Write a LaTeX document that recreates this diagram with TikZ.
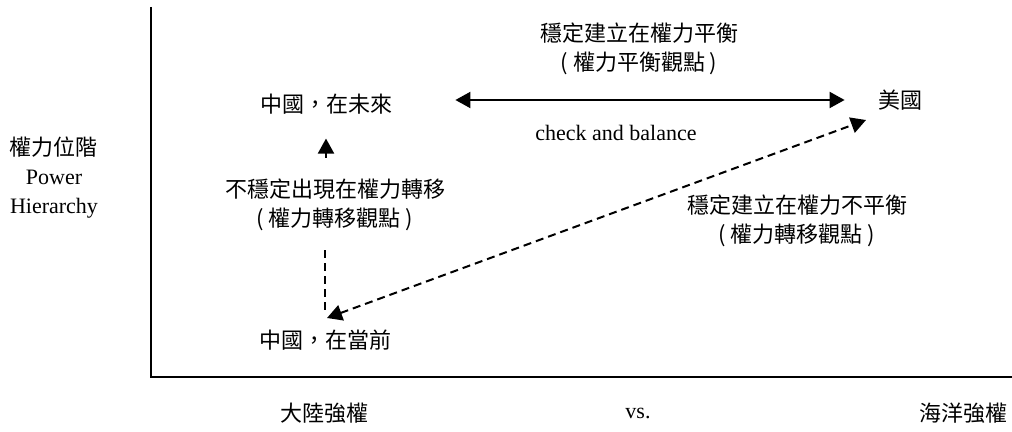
\documentclass[tikz,border=0pt]{standalone}
\usepackage{fontspec}
\usepackage{tikz}
\setmainfont{Liberation Serif}
\newfontfamily\cjk{Noto Sans CJK TC}
\usetikzlibrary{arrows.meta}
\tikzset{
  zh/.style={inner sep=0pt, align=center, font=\cjk\fontsize{11}{14.5}\selectfont},
  en/.style={inner sep=0pt, align=center, font=\fontsize{11}{14.5}\selectfont},
  axisline/.style={line width=1.2pt},
  solidline/.style={line width=1pt},
  dashline/.style={line width=1pt, dash pattern=on 4pt off 2.5pt},
  headtip/.style={-{Triangle[length=7.5pt,width=8pt]}},
  bothtips/.style={{Triangle[length=7.5pt,width=8pt]}-{Triangle[length=7.5pt,width=8pt]}}
}

\begin{document}
\begin{tikzpicture}[x=0.5pt, y=-0.5pt]%
\useasboundingbox (0,0) rectangle (1012,432);%
\coordinate (origin) at (151,377);%
\coordinate (ytop) at (151,7);%
\coordinate (xend) at (1012,377);%
\draw[axisline] (ytop) -- (origin) -- (xend);%
\node[en] (yaxislabel) at (54,178) {{\cjk 權力位階}\\Power\\Hierarchy};%
\node[zh] (future) at (326,104) {中國，在未來};%
\node[zh] (us) at (900,100) {美國};%
\node[zh] (balance) at (639,49) {穩定建立在權力平衡\\( 權力平衡觀點 )};%
\node[en] (check) at (616,133) {check and balance};%
\node[zh] (unstable) at (335,205) {不穩定出現在權力轉移\\( 權力轉移觀點 )};%
\node[zh] (current) at (325,340) {中國，在當前};%
\node[zh] (imbalance) at (797,221) {穩定建立在權力不平衡\\( 權力轉移觀點 )};%
\node[zh] (continental) at (324,413) {大陸強權};%
\node[en] (vs) at (638,413) {vs.};%
\node[zh] (maritime) at (963,413) {海洋強權};%
\draw[solidline, bothtips, shorten <=31.5pt, shorten >=16.5pt] (future.east |- us.west) -- (us.west);%
\draw[solidline, headtip, shorten <=10.5pt, shorten >=12pt] (unstable.north -| future.south) -- (future.south);%
\draw[dashline, shorten <=9.5pt, shorten >=8pt] (unstable.south -| current.north) -- (current.north);%
\coordinate (curtip) at (327,318);%
\coordinate (ustip) at (866,120);%
\draw[dashline, bothtips] (curtip) -- (ustip);%
\end{tikzpicture}
\end{document}
